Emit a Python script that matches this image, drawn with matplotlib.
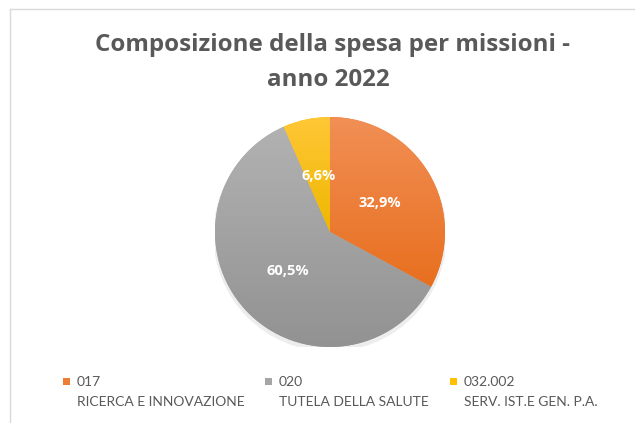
import numpy as np
import matplotlib
matplotlib.use('Agg')
import matplotlib.pyplot as plt
from matplotlib.colors import LinearSegmentedColormap
from matplotlib.patches import Rectangle, Circle
from matplotlib.lines import Line2D

plt.rcParams['font.family'] = ['Lato', 'DejaVu Sans']

# data
codes = ['017', '020', '032.002']
missions = ['RICERCA E INNOVAZIONE', 'TUTELA DELLA SALUTE', 'SERV. IST.E GEN. P.A.']
shares = [32.9, 60.5, 6.6]
title_lines = ['Composizione della spesa per missioni -', 'anno 2022']

# gradient colours (top, bottom) and flat legend colour
grad = [('#F18F55', '#E86F1F'), ('#B2B2B2', '#929292'), ('#FFC736', '#EFB700')]
flat = ['#ED7D31', '#A5A5A5', '#FFC000']
TXT = '#595959'

W, H = 635, 423
fig = plt.figure(figsize=(W / 100, H / 100), dpi=100)
fig.patch.set_facecolor('white')

# chart area border (only top & left visible)
fig.add_artist(Line2D([10 / W, 1], [1 - 9 / H, 1 - 9 / H], color='#D9D9D9', lw=1))
fig.add_artist(Line2D([10 / W, 10 / W], [0, 1 - 9 / H], color='#D9D9D9', lw=1))

# title, one line at a time (Excel centres each line separately)
for line, tx, ty in zip(title_lines, [332, 328], [51, 86]):
    fig.text(tx / W, 1 - ty / H, line, ha='center', va='baseline',
             fontsize=17.4, fontweight='bold', color=TXT,
             family=['Open Sans', 'DejaVu Sans'])

cx, cy, r = 330, 232, 115
ax = fig.add_axes([(cx - r) / W, (H - cy - r) / H, 2 * r / W, 2 * r / H])

# soft shadow
ax.add_patch(Circle((0.0, -0.025), 1.015, color='black', alpha=0.07, lw=0, zorder=0))

wedges, _, autotexts = ax.pie(
    shares, startangle=90, counterclock=False, colors=flat,
    autopct=lambda p: f'{p:.1f}%'.replace('.', ','), pctdistance=0.5,
    wedgeprops=dict(linewidth=0),
    textprops=dict(color='white', fontsize=10.5, fontweight='bold',
                   family=['Open Sans', 'DejaVu Sans']))

for w, (top, bot) in zip(wedges, grad):
    cmap = LinearSegmentedColormap.from_list('g', [bot, top])
    bb = w.get_path().get_extents(w.get_patch_transform())
    img = ax.imshow(np.linspace(0, 1, 256).reshape(-1, 1), cmap=cmap, origin='lower',
                    extent=(bb.x0, bb.x1, bb.y0, bb.y1), aspect='auto', zorder=1.5,
                    interpolation='bilinear')
    img.set_clip_path(w)
for t in autotexts:
    t.set_zorder(3)

ax.set_xlim(-1, 1)
ax.set_ylim(-1, 1)
ax.set_aspect('equal')
ax.axis('off')

# legend
mark_x = [63, 265, 450]
for mx, code, mis, col in zip(mark_x, codes, missions, flat):
    fig.add_artist(Rectangle((mx / W, 1 - 385 / H), 7 / W, 7 / H, color=col, lw=0))
    fig.text((mx + 14) / W, 1 - 382 / H, code, ha='left', va='center',
             fontsize=10, color=TXT)
    fig.text((mx + 14) / W, 1 - 402 / H, mis, ha='left', va='center',
             fontsize=10, color=TXT)

fig.savefig('out.png', dpi=100)
